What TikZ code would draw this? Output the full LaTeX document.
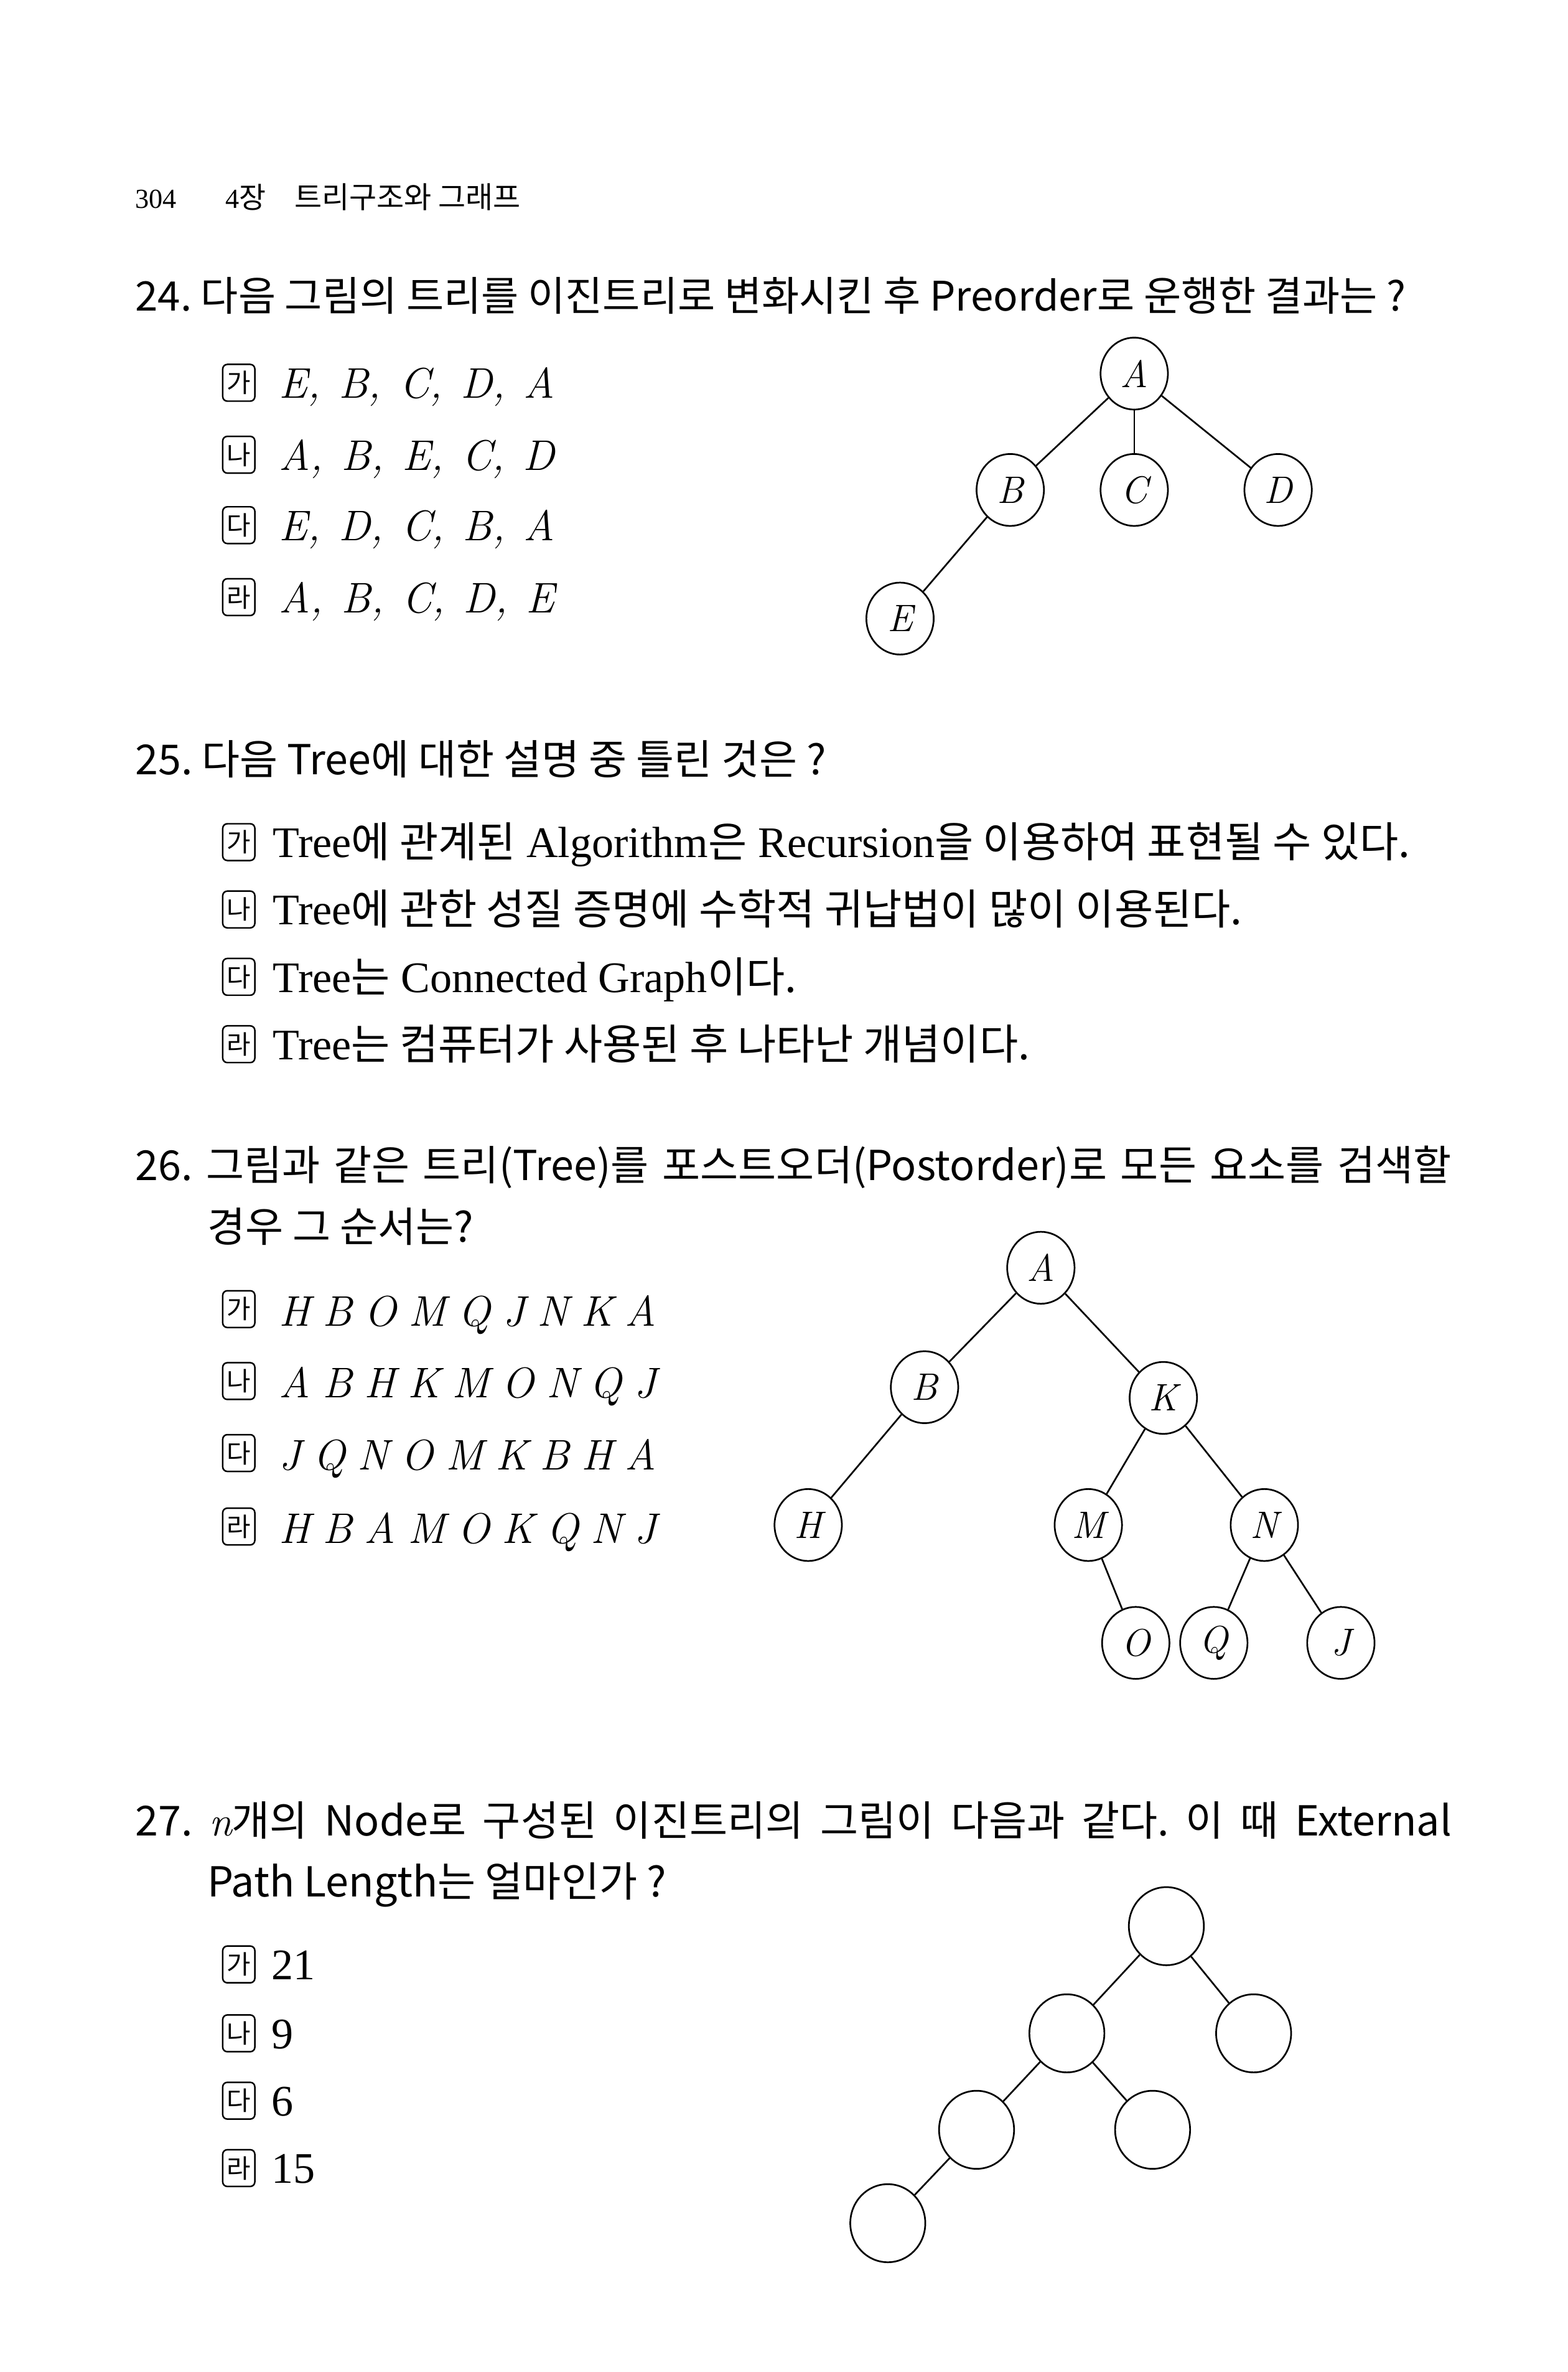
\documentclass[tikz,border=0pt]{standalone}
\usepackage{fontspec}
\setmainfont{Liberation Serif}
\newfontfamily\ko{Noto Sans CJK KR}
\newfontfamily\lmr{Latin Modern Roman}
\usetikzlibrary{shapes.geometric}
\frenchspacing
\newcommand{\lgap}{\hspace{8pt}}
\newcommand{\cgap}{\hspace{12pt}}
\newcommand{\okr}[1]{{\ko\fontsize{27.5}{27.5}\selectfont #1}}
\tikzset{every picture/.style={line width=0.75pt}}
\tikzset{
  tnode/.style={draw, ellipse, line width=1.1pt, minimum width=44pt, minimum height=47pt, inner sep=0pt, font=\lmr\itshape\fontsize{25}{25}\selectfont},
  bignode/.style={draw, ellipse, line width=1.1pt, minimum width=49pt, minimum height=51pt, inner sep=0pt},
  tedge/.style={line width=1.1pt},
  optbox/.style={draw, rounded corners=3pt, line width=1pt, minimum width=21pt, minimum height=24pt, inner sep=0pt, font=\ko\fontsize{17}{17}\selectfont},
  qtext/.style={anchor=base west, inner sep=0pt, font=\ko\fontsize{27}{27}\selectfont},
  otext/.style={anchor=base west, inner sep=0pt, font=\fontsize{28.5}{28.5}\selectfont},
  ltext/.style={anchor=base west, inner sep=0pt, font=\lmr\itshape\fontsize{28}{28}\selectfont},
  htext/.style={anchor=base west, inner sep=0pt, font=\fontsize{18}{18}\selectfont}
}
\begin{document}
\begin{tikzpicture}[x=1pt,y=1pt,yscale=-1,xscale=1]
    \useasboundingbox (0,0) rectangle (1024,1549.2);

    % Header
    \node [htext] (pgno) at (88,136) {304};
    \node [htext] (chap) at (147,136) {4{\ko\fontsize{19}{19}\selectfont 장}};
    \node [htext] (chtitle) at (192,136) {\ko\fontsize{19.5}{19.5}\selectfont 트리구조와 그래프};

    % Question 24
    \node [qtext, font=\ko\fontsize{26.6}{26.6}\selectfont] (q24) at (88,203) {24. 다음 그림의 트리를 이진트리로 변화시킨 후 Preorder로 운행한 결과는 ?};
    \node [optbox] (m24a) at (156,250) {가};
    \node [optbox] (m24b) at (156,297) {나};
    \node [optbox] (m24c) at (156,343) {다};
    \node [optbox] (m24d) at (156,390) {라};
    \node [ltext] (t24a) at (182,260) {E,\cgap B,\cgap C,\cgap D,\cgap A};
    \node [ltext] (t24b) at (182,307) {A,\cgap B,\cgap E,\cgap C,\cgap D};
    \node [ltext] (t24c) at (182,353) {E,\cgap D,\cgap C,\cgap B,\cgap A};
    \node [ltext] (t24d) at (182,400) {A,\cgap B,\cgap C,\cgap D,\cgap E};

    % Tree of question 24
    \node [tnode] (a24) at (741,244) {A};
    \node [tnode] (b24) at (660,320) {B};
    \node [tnode] (c24) at (741,320) {C};
    \node [tnode] (d24) at (835,320) {D};
    \node [tnode] (e24) at (588,404) {E};
    \draw [tedge] (a24) -- (b24);
    \draw [tedge] (a24) -- (c24);
    \draw [tedge] (a24) -- (d24);
    \draw [tedge] (b24) -- (e24);

    % Question 25
    \node [qtext] (q25) at (88,506) {25. 다음 Tree에 대한 설명 중 틀린 것은 ?};
    \node [optbox] (m25a) at (156,550) {가};
    \node [optbox] (m25b) at (156,594) {나};
    \node [optbox] (m25c) at (156,638) {다};
    \node [optbox] (m25d) at (156,682) {라};
    \node [otext] (t25a) at (178,560) {Tree\okr{에 관계된} Algorithm\okr{은} Recursion\okr{을 이용하여 표현될 수 있다.}};
    \node [otext] (t25b) at (178,604) {Tree\okr{에 관한 성질 증명에 수학적 귀납법이 많이 이용된다.}};
    \node [otext] (t25c) at (178,648) {Tree\okr{는} Connected Graph\okr{이다.}};
    \node [otext] (t25d) at (178,692) {Tree\okr{는 컴퓨터가 사용된 후 나타난 개념이다.}};

    % Question 26
    \node [qtext] (q26) at (88,771) {\makebox[860pt][s]{26. 그림과 같은 트리(Tree)를 포스트오더(Postorder)로 모든 요소를 검색할}};
    \node [qtext] (q26b) at (135,811) {경우 그 순서는?};
    \node [optbox] (m26a) at (156,855) {가};
    \node [optbox] (m26b) at (156,902) {나};
    \node [optbox] (m26c) at (156,949) {다};
    \node [optbox] (m26d) at (156,997) {라};
    \node [ltext] (t26a) at (182,866) {H\lgap B\lgap O\lgap M\lgap Q\lgap J\lgap N\lgap K\lgap A};
    \node [ltext] (t26b) at (182,913) {A\lgap B\lgap H\lgap K\lgap M\lgap O\lgap N\lgap Q\lgap J};
    \node [ltext] (t26c) at (182,960) {J\lgap Q\lgap N\lgap O\lgap M\lgap K\lgap B\lgap H\lgap A};
    \node [ltext] (t26d) at (182,1008) {H\lgap B\lgap A\lgap M\lgap O\lgap K\lgap Q\lgap N\lgap J};

    % Tree of question 26
    \node [tnode] (a26) at (680,828) {A};
    \node [tnode] (b26) at (604,906) {B};
    \node [tnode] (k26) at (760,913) {K};
    \node [tnode] (h26) at (528,996) {H};
    \node [tnode] (m26) at (711,996) {M};
    \node [tnode] (n26) at (826,996) {N};
    \node [tnode] (o26) at (742,1073) {O};
    \node [tnode] (q26n) at (793,1073) {Q};
    \node [tnode] (j26) at (876,1073) {J};
    \draw [tedge] (a26) -- (b26);
    \draw [tedge] (a26) -- (k26);
    \draw [tedge] (b26) -- (h26);
    \draw [tedge] (k26) -- (m26);
    \draw [tedge] (k26) -- (n26);
    \draw [tedge] (m26) -- (o26);
    \draw [tedge] (n26) -- (q26n);
    \draw [tedge] (n26) -- (j26);

    % Question 27
    \node [qtext] (q27) at (88,1199) {\makebox[860pt][s]{27. {\lmr\itshape n}개의 Node로 구성된 이진트리의 그림이 다음과 같다. 이 때 External}};
    \node [qtext] (q27b) at (135,1239) {Path Length는 얼마인가 ?};
    \node [optbox] (m27a) at (156,1283) {가};
    \node [optbox] (m27b) at (156,1328) {나};
    \node [optbox] (m27c) at (156,1372) {다};
    \node [optbox] (m27d) at (156,1416) {라};
    \node [otext] (t27a) at (177,1293) {21};
    \node [otext] (t27b) at (177,1338) {9};
    \node [otext] (t27c) at (177,1382) {6};
    \node [otext] (t27d) at (177,1426) {15};

    % Tree of question 27
    \node [bignode] (r27) at (762,1258) {};
    \node [bignode] (l27) at (697,1328) {};
    \node [bignode] (rr27) at (819,1328) {};
    \node [bignode] (ll27) at (638,1391) {};
    \node [bignode] (lr27) at (753,1391) {};
    \node [bignode] (lll27) at (580,1452) {};
    \draw [tedge] (r27) -- (l27);
    \draw [tedge] (r27) -- (rr27);
    \draw [tedge] (l27) -- (ll27);
    \draw [tedge] (l27) -- (lr27);
    \draw [tedge] (ll27) -- (lll27);

\end{tikzpicture}
\end{document}
